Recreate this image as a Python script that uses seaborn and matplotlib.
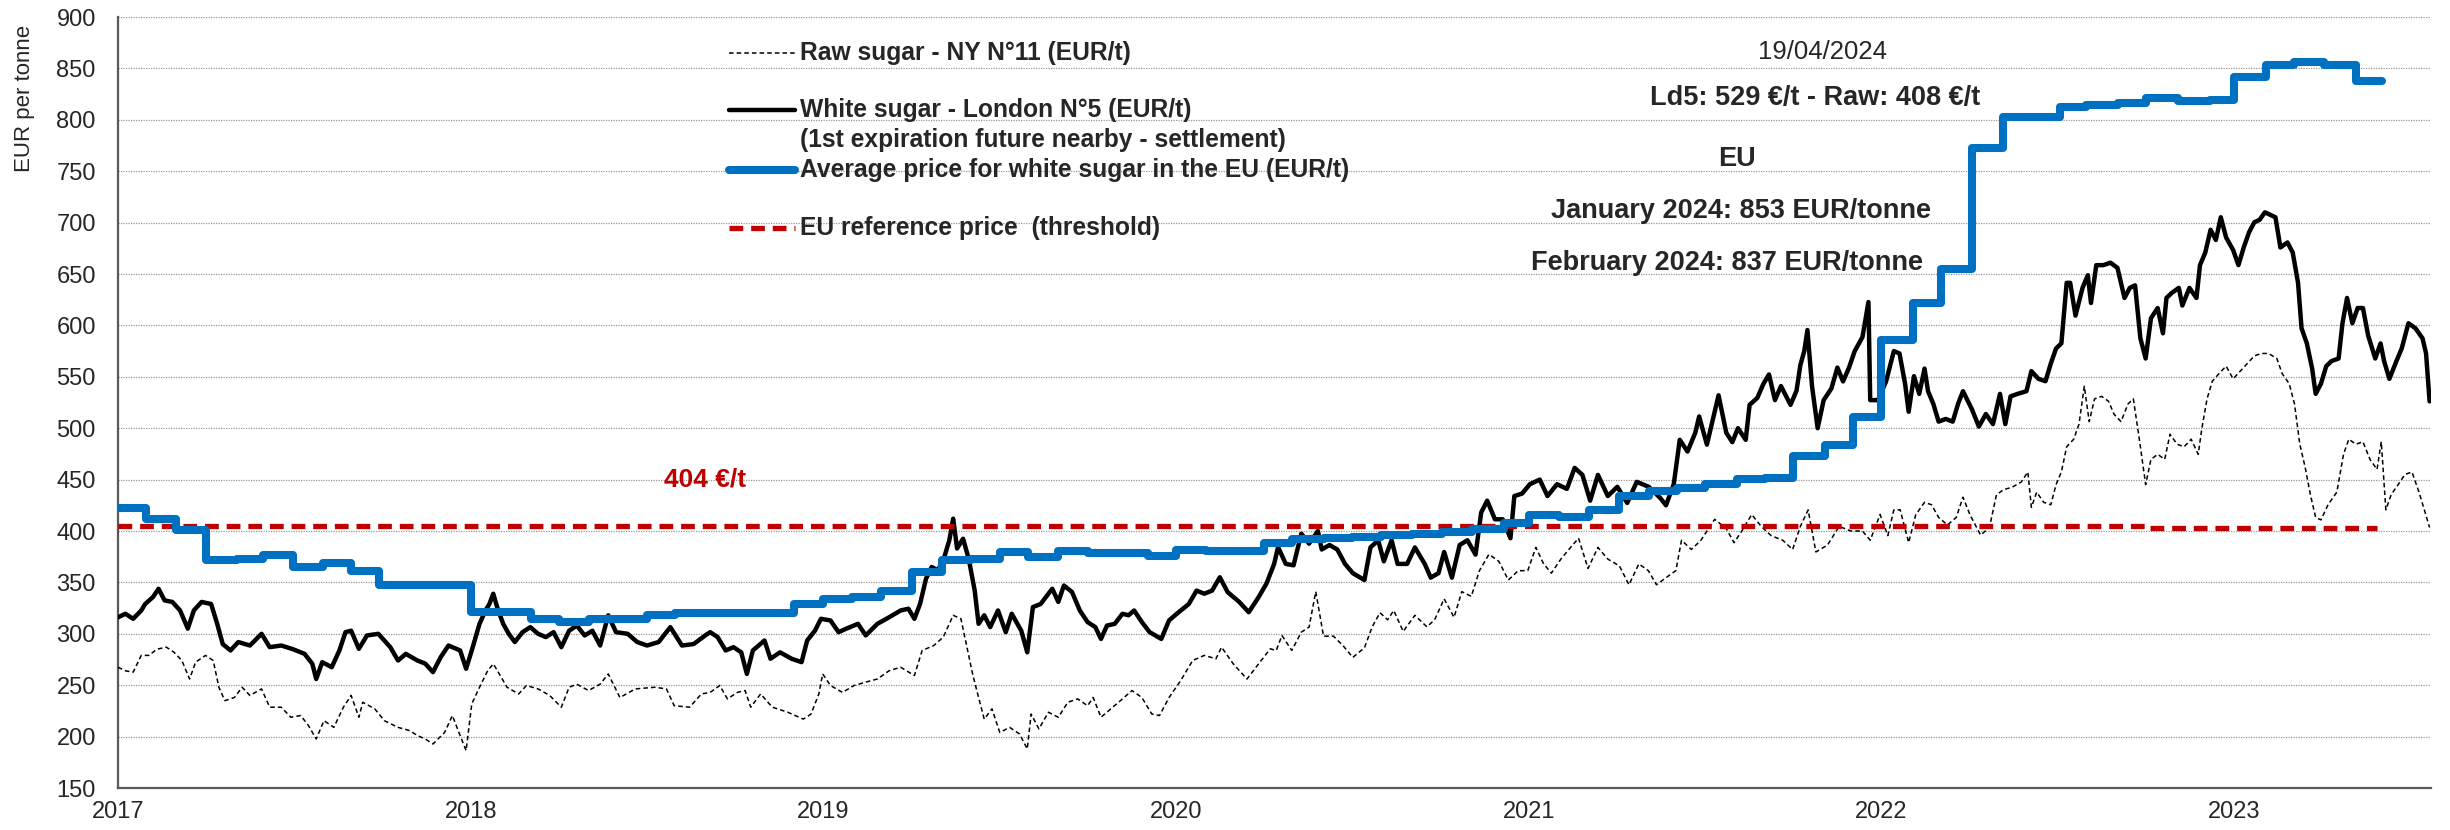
import matplotlib
matplotlib.use('Agg')
import matplotlib.pyplot as plt
import pandas as pd
import seaborn as sns
from matplotlib.lines import Line2D

# Axis positions are given in "chart years" (as the x axis is labelled)
YEAR_TICKS = [2017, 2018, 2019, 2020, 2021, 2022, 2023]

# Average price for white sugar in the EU (EUR/t) - step starts
eu_x = [2017.000, 2017.080, 2017.165, 2017.250, 2017.336, 2017.410, 2017.496, 2017.580,
        2017.660, 2017.740, 2018.000, 2018.170, 2018.250, 2018.335, 2018.500, 2018.580,
        2018.916, 2019.000, 2019.080, 2019.163, 2019.250, 2019.335, 2019.418, 2019.500,
        2019.580, 2019.665, 2019.750, 2019.920, 2020.000, 2020.085, 2020.250, 2020.330,
        2020.420, 2020.500, 2020.580, 2020.670, 2020.754, 2020.840, 2020.930, 2021.000,
        2021.085, 2021.170, 2021.255, 2021.340, 2021.420, 2021.500, 2021.590, 2021.670,
        2021.750, 2021.840, 2021.920, 2022.000, 2022.090, 2022.170, 2022.256, 2022.345,
        2022.505, 2022.580, 2022.670, 2022.750, 2022.840, 2022.930, 2023.000, 2023.090,
        2023.170, 2023.255, 2023.345, 2023.420]
eu_v = [422, 411.5, 401, 372, 373, 376.5, 365, 369,
        361, 347, 321, 314, 311.5, 314.5, 318, 320,
        329, 334, 336, 342, 360, 372, 372.5, 380,
        375, 380.5, 379, 376, 381.5, 380.5, 388, 392,
        393, 394.5, 396, 397, 399, 402, 408, 416,
        413.5, 420.5, 434, 439, 442, 446, 451, 452,
        473, 484, 511, 586, 622, 655, 773, 803,
        812, 814, 816.5, 821.5, 818.5, 819.5, 841.5, 853,
        856, 853, 837.5, 837.5]

# EU reference price (threshold)
ref_x = [2017.000, 2022.750, 2023.405]
ref_v = [404.5, 402.5, 402.5]

# White sugar - London N°5 (EUR/t)
white_x = [2017.000, 2017.021, 2017.043, 2017.066, 2017.077, 2017.099, 2017.115, 2017.132,
           2017.154, 2017.176, 2017.198, 2017.215, 2017.237, 2017.264, 2017.281, 2017.297,
           2017.319, 2017.341, 2017.374, 2017.407, 2017.430, 2017.463, 2017.496, 2017.529,
           2017.551, 2017.562, 2017.579, 2017.606, 2017.628, 2017.645, 2017.661, 2017.683,
           2017.706, 2017.738, 2017.772, 2017.794, 2017.816, 2017.849, 2017.871, 2017.893,
           2017.915, 2017.937, 2017.970, 2017.987, 2018.003, 2018.025, 2018.042, 2018.053,
           2018.064, 2018.075, 2018.092, 2018.108, 2018.125, 2018.147, 2018.169, 2018.191,
           2018.213, 2018.235, 2018.257, 2018.279, 2018.301, 2018.323, 2018.345, 2018.367,
           2018.390, 2018.412, 2018.445, 2018.472, 2018.500, 2018.533, 2018.566, 2018.599,
           2018.632, 2018.665,
           2018.679, 2018.700, 2018.723, 2018.745, 2018.767, 2018.783, 2018.800, 2018.833,
           2018.850, 2018.877, 2018.910, 2018.938, 2018.954, 2018.976, 2018.993, 2019.020,
           2019.043, 2019.065, 2019.098, 2019.120, 2019.153, 2019.186, 2019.219, 2019.241,
           2019.258, 2019.274, 2019.291, 2019.307, 2019.324, 2019.340, 2019.357, 2019.368,
           2019.379, 2019.396, 2019.412, 2019.429, 2019.440, 2019.456, 2019.473, 2019.495,
           2019.517, 2019.534, 2019.561, 2019.578, 2019.594, 2019.616, 2019.638, 2019.649,
           2019.666, 2019.682, 2019.705, 2019.727, 2019.749, 2019.771, 2019.787, 2019.804,
           2019.826, 2019.848, 2019.865, 2019.881, 2019.903, 2019.925, 2019.958, 2019.980,
           2020.002, 2020.036, 2020.058, 2020.080, 2020.102, 2020.124, 2020.146, 2020.179,
           2020.206, 2020.234, 2020.256, 2020.278, 2020.289, 2020.311, 2020.333, 2020.355,
           2020.377,
           2020.402, 2020.413, 2020.435, 2020.457, 2020.479, 2020.501, 2020.534, 2020.551,
           2020.573, 2020.589, 2020.611, 2020.628, 2020.655, 2020.677, 2020.705, 2020.722,
           2020.744, 2020.760, 2020.782, 2020.804, 2020.826, 2020.849, 2020.865, 2020.882,
           2020.904, 2020.926, 2020.948, 2020.959, 2020.981, 2021.003, 2021.031, 2021.053,
           2021.080, 2021.108, 2021.130, 2021.152, 2021.174, 2021.196, 2021.224, 2021.251,
           2021.279, 2021.306, 2021.340, 2021.373, 2021.389, 2021.411, 2021.428, 2021.450,
           2021.472, 2021.483, 2021.505, 2021.527, 2021.538, 2021.560, 2021.577, 2021.593,
           2021.615, 2021.626, 2021.648, 2021.665, 2021.681, 2021.698, 2021.715, 2021.742,
           2021.759, 2021.770, 2021.781, 2021.790, 2021.803, 2021.819, 2021.836, 2021.858,
           2021.875, 2021.891, 2021.908, 2021.924, 2021.946, 2021.963, 2021.968, 2021.990,
           2022.013, 2022.035, 2022.051,
           2022.067, 2022.077, 2022.092, 2022.107, 2022.122, 2022.132, 2022.147, 2022.162,
           2022.182, 2022.202, 2022.217, 2022.231, 2022.256, 2022.276, 2022.296, 2022.316,
           2022.336, 2022.351, 2022.366, 2022.386, 2022.411, 2022.425, 2022.445, 2022.465,
           2022.480, 2022.495, 2022.510, 2022.525, 2022.535, 2022.550, 2022.570, 2022.585,
           2022.594, 2022.609, 2022.629, 2022.649, 2022.669, 2022.689, 2022.704, 2022.719,
           2022.734, 2022.749, 2022.764, 2022.783, 2022.798, 2022.808, 2022.823, 2022.843,
           2022.853, 2022.873, 2022.893, 2022.903, 2022.918, 2022.933, 2022.948, 2022.962,
           2022.977, 2022.997, 2023.012, 2023.027, 2023.042, 2023.057, 2023.072, 2023.087,
           2023.102, 2023.117, 2023.131, 2023.151, 2023.166, 2023.181, 2023.191, 2023.206,
           2023.221, 2023.231, 2023.246, 2023.261, 2023.276, 2023.296, 2023.307, 2023.320,
           2023.335, 2023.350, 2023.365, 2023.380, 2023.400, 2023.415, 2023.425, 2023.440,
           2023.460, 2023.475, 2023.494, 2023.514, 2023.534, 2023.544, 2023.554]
white_v = [316, 319.5, 314.6, 322.7, 329, 335.7, 343.8, 332.5,
           331, 322.7, 305, 322.7, 331, 329, 310, 290,
           283.8, 292, 288.6, 300, 287, 288.6, 285, 280.5,
           270.8, 256, 272.4, 267.5, 284, 301.6, 303, 285.4,
           298.4, 300, 287, 274, 280.5, 274, 271, 262.7,
           277.3, 288.6, 283.8, 266, 283.8, 309.7, 322.7, 329,
           339, 326, 309.7, 300, 292, 301.6, 306.5, 300,
           296.8, 301.6, 287, 303, 308, 298.4, 303, 288.6,
           318, 301.6, 300, 292, 288.6, 292, 306.5, 288.6,
           290, 298.4,
           301.6, 296.8, 283.8, 287, 282, 261, 283.8, 293.5,
           275.7, 282, 275.7, 272.4, 293.5, 303, 314.6, 313,
           301.6, 305, 309.7, 298.4, 309.7, 316, 322.7, 324.4,
           314.6, 329, 353.6, 365, 361.7, 371.4, 391, 412,
           383, 392.5, 373, 342, 309.7, 318, 306.5, 322.7,
           301.6, 319.5, 303, 282, 326, 329, 339, 343.8,
           331, 347, 340.6, 322.7, 311.4, 306.5, 295, 308,
           309.7, 319.5, 318, 322.7, 311.4, 301.6, 295, 313,
           319.5, 329, 342, 339, 342, 355, 340.6, 331,
           321, 335.7, 348.7, 368, 384.4, 368, 366.6, 397.4,
           387.7,
           400, 382, 386.4, 382, 368, 359, 352.3, 384,
           391, 370.5, 391, 368, 368, 384, 368, 354.6,
           359, 379.6, 354.6, 386.4, 391, 377, 418, 429.5,
           411.4, 411.4, 393, 434, 436.4, 445.5, 450, 434,
           445.5, 441, 461.4, 454.6, 429.5, 454.6, 434, 443,
           427.3, 447.8, 443, 432, 425, 445.5, 488.7, 477.3,
           495.5, 511.4, 484, 516, 532, 495.5, 486.4, 500,
           488.7, 522.7, 529.5, 543, 552.3, 527.3, 541, 522.7,
           536.4, 561.4, 575, 595.5, 541, 500, 527.3, 538.6,
           559, 545.5, 559, 575, 588.6, 622.7, 527.3, 527.3,
           545.5, 575, 572.7,
           543, 516, 550.6, 533.4, 558, 536, 523.6, 506.4,
           509, 506.4, 523.6, 536, 518.7, 501.6, 513.8, 504,
           533.4, 504, 531, 533.4, 536, 555.5, 548, 545.7,
           562.9, 577.6, 582.5, 641.4, 641.4, 609.5, 636.5, 648.8,
           621.8, 658.6, 658.6, 661, 656, 626.7, 636.5, 639,
           587.4, 567.8, 607, 616.9, 592.3, 626.7, 631.6, 636.5,
           619.3, 636.5, 626.7, 658.6, 670.8, 693, 683.1, 705.2,
           685.6, 673.3, 658.6, 675.8, 690.5, 700.3, 702.7, 710,
           707.6, 705.2, 675.8, 680.7, 670.8, 641.4, 597.2, 582.5,
           558, 533.4, 543.3, 560.4, 565.3, 567.8, 602.1, 626.7,
           602.1, 616.9, 616.9, 589.9, 567.8, 582.5, 565.3, 548,
           565.3, 577.6, 602.1, 597.2, 587.4, 572.7, 526.1]

# Raw sugar - NY N°11 (EUR/t)
raw_x = [2017.000, 2017.021, 2017.043, 2017.066, 2017.088, 2017.110, 2017.137, 2017.159,
         2017.181, 2017.203, 2017.220, 2017.248, 2017.270, 2017.286, 2017.303, 2017.330,
         2017.352, 2017.374, 2017.407, 2017.430, 2017.463, 2017.490, 2017.518, 2017.540,
         2017.562, 2017.584, 2017.612, 2017.639, 2017.661, 2017.683, 2017.694, 2017.728,
         2017.755, 2017.794, 2017.827, 2017.849, 2017.871, 2017.893, 2017.926, 2017.948,
         2017.970, 2017.987, 2018.003, 2018.025, 2018.048, 2018.064, 2018.081, 2018.103,
         2018.136, 2018.158, 2018.191, 2018.224, 2018.257, 2018.279, 2018.301, 2018.334,
         2018.367, 2018.390, 2018.423, 2018.467, 2018.522, 2018.555, 2018.577, 2018.621,
         2018.654,
         2018.679, 2018.706, 2018.728, 2018.756, 2018.778, 2018.794, 2018.822, 2018.855,
         2018.899, 2018.943, 2018.965, 2018.987, 2018.998, 2019.020, 2019.054, 2019.087,
         2019.120, 2019.153, 2019.186, 2019.219, 2019.258, 2019.280, 2019.313, 2019.340,
         2019.368, 2019.390, 2019.407, 2019.423, 2019.440, 2019.456, 2019.478, 2019.500,
         2019.528, 2019.556, 2019.578, 2019.589, 2019.611, 2019.638, 2019.666, 2019.693,
         2019.721, 2019.749, 2019.765, 2019.787, 2019.815, 2019.848, 2019.875, 2019.903,
         2019.931, 2019.953, 2019.980, 2020.013, 2020.047, 2020.080, 2020.113, 2020.129,
         2020.162, 2020.201, 2020.234, 2020.267, 2020.284, 2020.300, 2020.328, 2020.355,
         2020.377,
         2020.396, 2020.418, 2020.446, 2020.473, 2020.501, 2020.534, 2020.556, 2020.578,
         2020.600, 2020.617, 2020.644, 2020.677, 2020.711, 2020.733, 2020.760, 2020.788,
         2020.810, 2020.837, 2020.860, 2020.887, 2020.915, 2020.942, 2020.970, 2020.997,
         2021.020, 2021.042, 2021.064, 2021.091, 2021.113, 2021.141, 2021.168, 2021.196,
         2021.224, 2021.257, 2021.284, 2021.312, 2021.339, 2021.362, 2021.389, 2021.417,
         2021.433, 2021.461, 2021.488, 2021.527, 2021.560, 2021.582, 2021.604, 2021.632,
         2021.659, 2021.687, 2021.720, 2021.748, 2021.770, 2021.792, 2021.814, 2021.847,
         2021.880, 2021.913, 2021.946, 2021.968, 2021.996, 2022.018, 2022.035,
         2022.053, 2022.077, 2022.097, 2022.122, 2022.142, 2022.162, 2022.187, 2022.212,
         2022.231, 2022.251, 2022.281, 2022.306, 2022.326, 2022.346, 2022.371, 2022.396,
         2022.415, 2022.425, 2022.440, 2022.460, 2022.480, 2022.495, 2022.510, 2022.525,
         2022.545, 2022.560, 2022.575, 2022.589, 2022.604, 2022.624, 2022.644, 2022.659,
         2022.679, 2022.699, 2022.714, 2022.729, 2022.749, 2022.764, 2022.783, 2022.803,
         2022.818, 2022.838, 2022.858, 2022.878, 2022.898, 2022.908, 2022.923, 2022.938,
         2022.957, 2022.977, 2022.997, 2023.017, 2023.037, 2023.057, 2023.077, 2023.097,
         2023.121, 2023.136, 2023.156, 2023.171, 2023.186, 2023.201, 2023.216, 2023.231,
         2023.246, 2023.266, 2023.291, 2023.310, 2023.325, 2023.345, 2023.365, 2023.385,
         2023.405, 2023.417, 2023.430, 2023.445, 2023.465, 2023.484, 2023.504, 2023.524,
         2023.539, 2023.554]
raw_v = [267.5, 264, 262.7, 279, 279, 285, 287, 282,
         274, 256, 272.4, 279, 274, 248, 235, 238,
         248, 240, 246.4, 228.6, 228.6, 218.8, 220.5, 210.7,
         197.7, 215.5, 209, 228.6, 240, 218.8, 233.4, 227,
         215.5, 209, 205.8, 201, 197.7, 192.8, 204, 220.5,
         201, 186.4, 231.8, 248, 264, 270.8, 261, 248,
         241.5, 249.7, 246.4, 240, 228.6, 248, 251, 244.8,
         251, 261, 238, 246.4, 248, 246.4, 230, 228.6,
         241.5,
         243, 249.7, 236.7, 243, 244.8, 228.6, 241.5, 228.6,
         223.7, 217, 222, 241.5, 261, 249.7, 243, 249.7,
         253, 256, 264, 267.5, 259.4, 283.8, 288.6, 296.8,
         318, 314.6, 287, 261, 238, 217, 227, 204,
         209, 202.6, 188, 222, 207.5, 223.7, 218.8, 233.4,
         236.7, 230, 238, 218.8, 227, 236.7, 244.8, 238,
         222, 220.5, 238, 254.5, 274, 279, 275.7, 287,
         270.8, 256, 270.8, 285.4, 283.8, 298.4, 283.8, 301.6,
         306.5,
         341, 297.7, 297.7, 288.6, 277, 286.4, 306.8, 320.5,
         313.6, 322.7, 302.3, 318, 306.8, 313.6, 334, 316,
         341, 336.4, 361.4, 377.3, 370.5, 352.3, 361.4, 361.4,
         384, 368, 359, 372.7, 381.8, 393, 363.6, 384,
         372.7, 366, 347.7, 368, 361.4, 347.7, 354.6, 361.4,
         391, 382, 391, 411.4, 402.3, 388.6, 400, 416,
         404.5, 395.5, 391, 382, 404.5, 420.5, 379.6, 386.4,
         404.5, 400, 400, 391, 416, 395.5, 420.5,
         420.6, 388.7, 415.7, 427.9, 425.5, 413.2, 405.9, 413.2,
         432.9, 415.7, 396, 403.4, 435.3, 440.2, 442.7, 447.6,
         457.4, 423, 437.8, 427.9, 425.5, 445.2, 457.4, 481.9,
         489.3, 504, 540.8, 506.4, 528.5, 531, 526.1, 513.8,
         506.4, 523.6, 528.5, 494.2, 445.2, 469.7, 474.6, 469.7,
         494.2, 484.4, 481.9, 489.3, 474.6, 499.1, 528.5, 545.7,
         553.1, 560.4, 548, 555.5, 562.9, 570.3, 572.7, 572.7,
         567.8, 553.1, 543.3, 523.6, 484.4, 462.3, 435.3, 413.2,
         410.8, 425.5, 437.8, 474.6, 489.3, 484.4, 486.8, 469.7,
         459.9, 486.8, 420.6, 435.3, 445.2, 455, 457.4, 437.8,
         420.6, 403.4]

LEGEND_LABELS = [
    'Raw sugar - NY N°11 (EUR/t)',
    'White sugar - London N°5 (EUR/t)',
    '(1st expiration future nearby - settlement)',
    'Average price for white sugar in the EU (EUR/t)',
    'EU reference price  (threshold)',
]
NOTES = ['19/04/2024', 'Ld5: 529 €/t - Raw: 408 €/t', 'EU',
         'January 2024: 853 EUR/tonne', 'February 2024: 837 EUR/tonne']

BLUE = '#0070C0'
RED = '#C00000'
W, H = 2450, 830


def fig_xy(x, y):
    return x / W, 1 - y / H


def main():
    sns.set_theme(style='white')
    plt.rcParams['font.family'] = ['Liberation Sans', 'DejaVu Sans']

    fig, ax = plt.subplots(figsize=(W / 100, H / 100), dpi=100)
    fig.subplots_adjust(left=118 / W, right=2431 / W, bottom=1 - 788 / H, top=1 - 17 / H)

    raw = pd.DataFrame({'x': raw_x, 'v': raw_v})
    white = pd.DataFrame({'x': white_x, 'v': white_v})
    eu = pd.DataFrame({'x': eu_x, 'v': eu_v})
    ref = pd.DataFrame({'x': ref_x, 'v': ref_v})

    sns.lineplot(data=raw, x='x', y='v', ax=ax, color='black', lw=1.1,
                 sort=False, estimator=None, zorder=3, linestyle=(0, (3, 2)))
    sns.lineplot(data=white, x='x', y='v', ax=ax, color='black', lw=3.2,
                 sort=False, estimator=None, zorder=4)
    sns.lineplot(data=ref, x='x', y='v', ax=ax, color=RED, lw=3.8,
                 sort=False, estimator=None, zorder=5, drawstyle='steps-post',
                 linestyle=(0, (2.6, 1.5)))
    sns.lineplot(data=eu, x='x', y='v', ax=ax, color=BLUE, lw=5.8,
                 sort=False, estimator=None, zorder=6, drawstyle='steps-post')

    ax.set_xlim(2017, 2023.558)
    ax.set_ylim(150, 900)
    ax.set_yticks(range(150, 901, 50))
    ax.set_xticks(YEAR_TICKS)
    ax.set_xticklabels([str(y) for y in YEAR_TICKS])
    ax.yaxis.grid(True, linestyle=(0, (1, 1)), color='#9a9a9a', lw=0.9, zorder=0)
    ax.xaxis.grid(False)
    for side in ['top', 'right']:
        ax.spines[side].set_visible(False)
    for side in ['left', 'bottom']:
        ax.spines[side].set_color('#595959')
        ax.spines[side].set_linewidth(1.6)
    ax.tick_params(axis='y', direction='out', length=5, width=1, color='#595959',
                   labelsize=17, pad=11)
    ax.tick_params(axis='x', direction='in', length=8, width=1, color='#595959',
                   labelsize=17, pad=9)
    ax.set_xlabel('')
    ax.set_ylabel('')
    fx, fy = fig_xy(25, 98)
    fig.text(fx, fy, 'EUR per tonne', rotation=90, ha='center', va='center', fontsize=16)

    # legend drawn by hand, as in the original layout
    samples = [
        (53, dict(color='black', lw=1.1, linestyle=(0, (3, 2)))),
        (110, dict(color='black', lw=3.2)),
        (170, dict(color=BLUE, lw=5.8)),
        (228, dict(color=RED, lw=3.8, linestyle=(0, (2.6, 1.5)))),
    ]
    for y, style in samples:
        x0, yy = fig_xy(729, y)
        x1, _ = fig_xy(795, y)
        fig.add_artist(Line2D([x0, x1], [yy, yy], transform=fig.transFigure, **style))
    for label, y in zip(LEGEND_LABELS, [53, 110, 140, 170, 228]):
        x, yy = fig_xy(800, y)
        fig.text(x, yy, label, ha='left', va='center', fontsize=17.7, fontweight='bold')

    note_pos = [(1822, 52, 'normal', 18.5), (1815, 98, 'bold', 19.5), (1737, 159, 'bold', 19.5),
                (1741, 211, 'bold', 19.5), (1727, 263, 'bold', 19.5)]
    for text, (x, y, weight, size) in zip(NOTES, note_pos):
        fx, fy = fig_xy(x, y)
        fig.text(fx, fy, text, ha='center', va='center', fontsize=size, fontweight=weight)

    fx, fy = fig_xy(664, 479)
    fig.text(fx, fy, '404 €/t', ha='left', va='center', fontsize=19,
             fontweight='bold', color=RED)

    fig.savefig('out.png', dpi=100)
    plt.close(fig)


if __name__ == '__main__':
    main()
